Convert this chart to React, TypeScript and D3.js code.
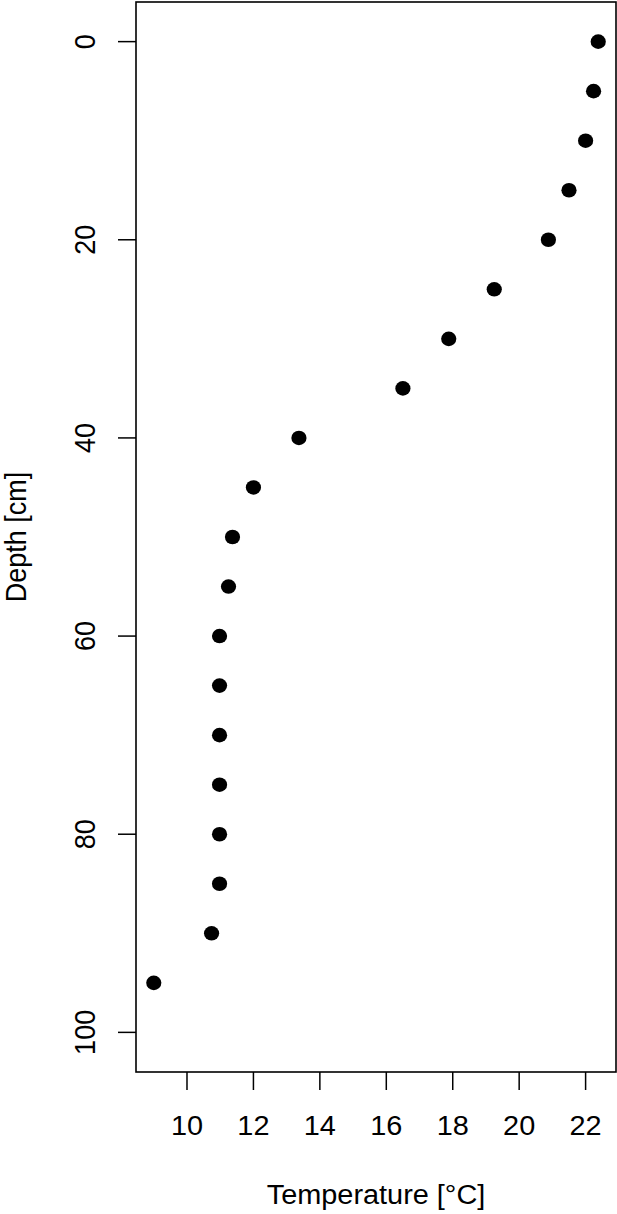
import React from 'react';
import * as d3 from 'd3';

// depth profile
const depths = [0, 5, 10, 15, 20, 25, 30, 35, 40, 45, 50, 55, 60, 65, 70, 75, 80, 85, 90, 95];
const temps = [22.38, 22.24, 22.0, 21.5, 20.88, 19.25, 17.88, 16.5, 13.37, 12.0, 11.37, 11.25, 10.98, 10.98, 10.98, 10.98, 10.98, 10.98, 10.74, 9.0];
const xTicks = [10, 12, 14, 16, 18, 20, 22];
const yTicks = [0, 20, 40, 60, 80, 100];

const W = 617;
const H = 1214;
const box = { left: 136, right: 616, top: 2, bottom: 1072 };
const font = 'Liberation Sans, Arial, Helvetica, sans-serif';
const fs = 27;
const sx = 1.07; // the reference is stretched a little horizontally

const App = () => {
  // R style 4% padding around the data range
  const tMin = d3.min(temps) as number;
  const tMax = d3.max(temps) as number;
  const pad = (tMax - tMin) * 0.04;
  const x = d3.scaleLinear().domain([tMin - pad, tMax + pad]).range([box.left, box.right]);
  const y = d3.scaleLinear().domain([-4, 104]).range([box.top, box.bottom]);

  return (
    <svg width={W} height={H} style={{ position: 'absolute', left: 0, top: 0, background: '#fff' }} fontFamily={font}>
      <rect x={box.left} y={box.top} width={box.right - box.left} height={box.bottom - box.top}
        fill="none" stroke="#000" strokeWidth={1.6} />

      {xTicks.map(t => (
        <g key={'x' + t}>
          <line x1={x(t)} x2={x(t)} y1={box.bottom} y2={box.bottom + 18} stroke="#000" strokeWidth={1.5} />
          <text transform={`translate(${x(t)},1135) scale(${sx},1)`} fontSize={fs} textAnchor="middle">{t}</text>
        </g>
      ))}

      {yTicks.map(t => (
        <g key={'y' + t}>
          <line x1={box.left - 18} x2={box.left} y1={y(t)} y2={y(t)} stroke="#000" strokeWidth={1.5} />
          <text transform={`translate(95,${y(t)}) scale(${sx},1) rotate(-90)`} fontSize={fs} textAnchor="middle">{t}</text>
        </g>
      ))}

      {depths.map((d, i) => (
        <ellipse key={i} cx={x(temps[i])} cy={y(d)} rx={7.6} ry={7.3} fill="#000" />
      ))}

      <text transform={`translate(${(box.left + box.right) / 2},1204) scale(${sx},1)`} fontSize={fs} textAnchor="middle">Temperature [°C]</text>
      <text transform={`translate(26,${(box.top + box.bottom) / 2}) scale(${sx},1) rotate(-90)`} fontSize={fs} textAnchor="middle">Depth [cm]</text>
    </svg>
  );
};

export default App;
